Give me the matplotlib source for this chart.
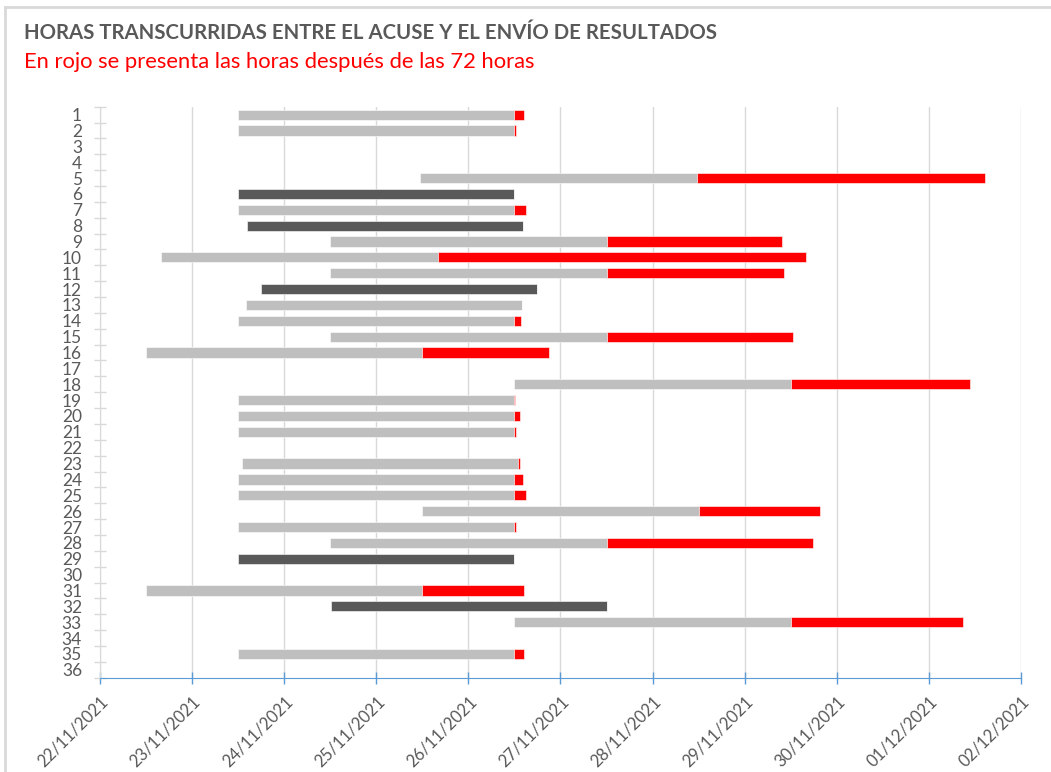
import pandas as pd
import matplotlib
matplotlib.use('Agg')
import matplotlib.pyplot as plt
import matplotlib.dates as mdates

plt.rcParams['font.family'] = ['Lato', 'DejaVu Sans']

# Filas con datos (las demas quedan vacias)
filas = [1, 2, 5, 6, 7, 8, 9, 10, 11, 12, 13, 14, 15, 16, 18, 19, 20, 21,
         23, 24, 25, 26, 27, 28, 29, 31, 32, 33, 35]

# Fecha y hora del acuse
inicio = ['2021-11-23 12:00', '2021-11-23 12:00', '2021-11-25 11:30', '2021-11-23 12:00',
          '2021-11-23 12:00', '2021-11-23 14:15', '2021-11-24 12:00', '2021-11-22 16:00',
          '2021-11-24 12:00', '2021-11-23 18:00', '2021-11-23 14:00', '2021-11-23 12:00',
          '2021-11-24 12:00', '2021-11-22 12:00', '2021-11-26 12:00', '2021-11-23 12:00',
          '2021-11-23 12:00', '2021-11-23 12:00', '2021-11-23 13:00', '2021-11-23 12:00',
          '2021-11-23 12:00', '2021-11-25 12:00', '2021-11-23 12:00', '2021-11-24 12:00',
          '2021-11-23 12:00', '2021-11-22 12:00', '2021-11-24 12:10', '2021-11-26 12:00',
          '2021-11-23 12:00']

# Horas transcurridas hasta el envio
horas = [74.4, 72.4, 147.2, 72.0, 74.9, 72.0, 117.7, 168.0, 118.3, 72.0,
         71.9, 73.8, 120.7, 105.0, 118.8, 72.2, 73.5, 72.4, 72.5, 74.1,
         75.1, 103.7, 72.4, 125.8, 72.0, 98.5, 72.0, 116.9, 74.6]

# Filas en gris oscuro
oscuras = [6, 8, 12, 29, 32]

etiquetas_y = [str(i) for i in range(1, 37)]
limite = 72

df = pd.DataFrame({'fila': filas, 'inicio': pd.to_datetime(inicio), 'horas': horas})
df['x0'] = mdates.date2num(df['inicio'])
df['gris'] = df['horas'].clip(upper=limite) / 24
df['rojo'] = (df['horas'] - limite).clip(lower=0) / 24
df['color'] = ['#595959' if f in oscuras else '#BFBFBF' for f in df['fila']]

fig = plt.figure(figsize=(10.51, 7.72), dpi=100)
ax = fig.add_axes([100 / 1051, 1 - 677.7 / 772, 921 / 1051, 571 / 772])

ax.barh(df['fila'], df['gris'], left=df['x0'], height=0.64, color=df['color'],
        edgecolor='white', linewidth=0.4, zorder=3)
ax.barh(df['fila'], df['rojo'], left=df['x0'] + df['gris'], height=0.64, color='#FF0000',
        edgecolor='white', linewidth=0.4, zorder=3)

ax.set_xlim(mdates.date2num(pd.Timestamp('2021-11-22')), mdates.date2num(pd.Timestamp('2021-12-02')))
ax.xaxis.set_major_locator(mdates.DayLocator())
ax.xaxis.set_major_formatter(mdates.DateFormatter('%d/%m/%Y'))
ax.grid(axis='x', color='#D9D9D9', linewidth=1, zorder=0)

ax.set_ylim(36.5, 0.5)
ax.set_yticks(range(1, 37))
ax.set_yticklabels(etiquetas_y)
ax.yaxis.set_minor_locator(plt.FixedLocator([i + 0.5 for i in range(0, 37)]))
ax.tick_params(axis='y', which='major', length=0, pad=13, labelsize=12.5, labelcolor='#595959')
ax.tick_params(axis='y', which='minor', length=9, direction='inout', color='#D9D9D9', width=1)

ax.tick_params(axis='x', length=9, direction='inout', color='#5B9BD5', width=1,
               labelsize=12, labelcolor='#595959', pad=7)
for lbl in ax.get_xticklabels():
    lbl.set_rotation(45)
    lbl.set_ha('right')
    lbl.set_rotation_mode('anchor')

for s in ['top', 'right']:
    ax.spines[s].set_visible(False)
ax.spines['left'].set_color('#D9D9D9')
ax.spines['bottom'].set_color('#5B9BD5')
ax.spines['bottom'].set_zorder(4)

# Marco del grafico
fig.add_artist(plt.Line2D([5 / 1051, 5 / 1051], [0, 1 - 7 / 772], color='#D9D9D9', linewidth=2))
fig.add_artist(plt.Line2D([5 / 1051, 1], [1 - 7 / 772, 1 - 7 / 772], color='#D9D9D9', linewidth=2))

fig.text(24 / 1051, 1 - 33 / 772, 'HORAS TRANSCURRIDAS ENTRE EL ACUSE Y EL ENVÍO DE RESULTADOS',
         fontsize=14.7, fontweight='bold', color='#595959', va='center', ha='left')
fig.text(24 / 1051, 1 - 62 / 772, 'En rojo se presenta las horas después de las 72 horas',
         fontsize=15.8, color='#FF0000', va='center', ha='left')

fig.savefig('out.png', dpi=100)
